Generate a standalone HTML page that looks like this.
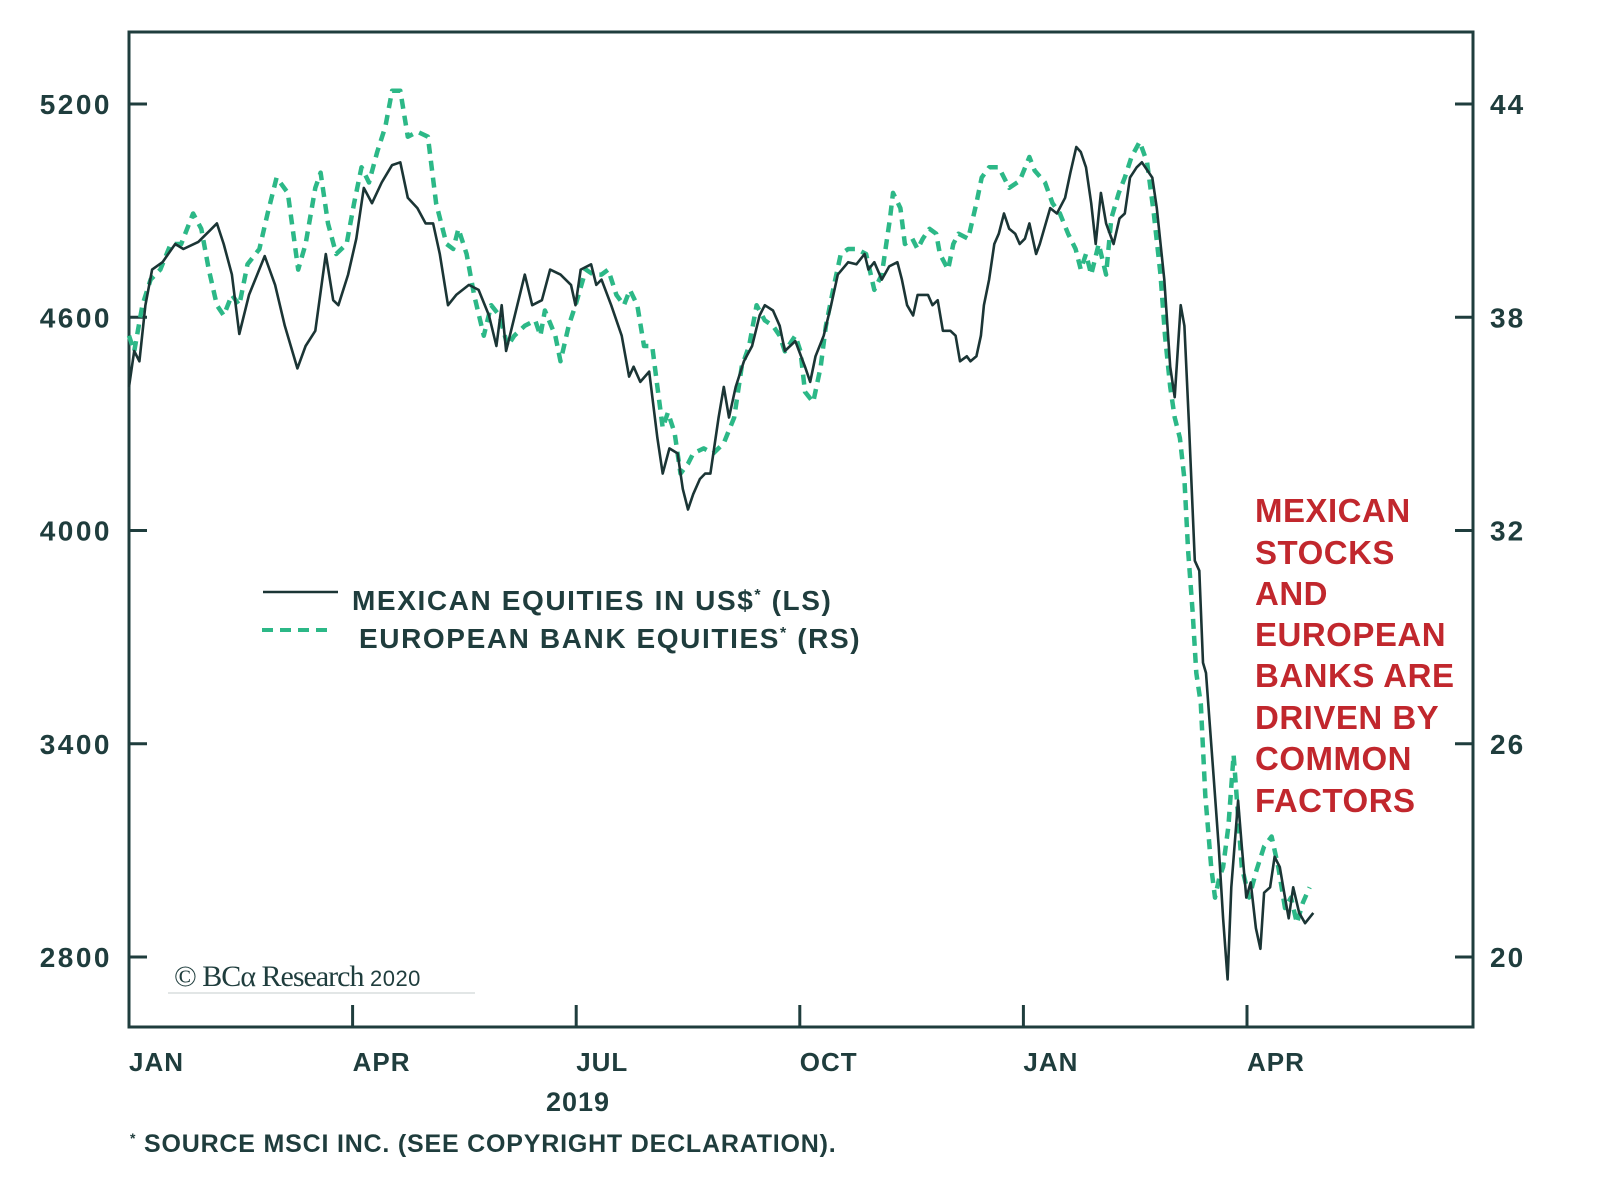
<!DOCTYPE html>
<html><head><meta charset="utf-8"><style>
html,body{margin:0;padding:0;background:#fff;}
svg{display:block;}
text{font-family:"Liberation Sans",Arial,sans-serif;}
</style></head><body>
<svg id="chart" width="1600" height="1188" viewBox="0 0 1600 1188" xmlns="http://www.w3.org/2000/svg">
<rect x="129" y="32" width="1344" height="995" fill="none" stroke="#1f3d3d" stroke-width="3"/>
<g id="axes"></g>
<g id="series"></g>
<g>
<line x1="263" y1="592" x2="338" y2="592" stroke="#1b3535" stroke-width="2.5"/>
<text x="352" y="610" font-size="28" font-weight="bold" fill="#1f3d3d" letter-spacing="1.6">MEXICAN EQUITIES IN US$<tspan font-size="16" dy="-10">*</tspan><tspan dy="10"> (LS)</tspan></text>
<line x1="262" y1="630" x2="334" y2="630" stroke="#2cb887" stroke-width="4" stroke-dasharray="11,7"/>
<text x="359" y="648" font-size="28" font-weight="bold" fill="#1f3d3d" letter-spacing="1.6">EUROPEAN BANK EQUITIES<tspan font-size="16" dy="-10">*</tspan><tspan dy="10"> (RS)</tspan></text>
</g>
<g font-size="33" font-weight="bold" fill="#c1272d" letter-spacing="0.5">
<text x="1255" y="522">MEXICAN</text><text x="1255" y="564">STOCKS</text><text x="1255" y="605">AND</text><text x="1255" y="646">EUROPEAN</text><text x="1255" y="687">BANKS ARE</text><text x="1255" y="729">DRIVEN BY</text><text x="1255" y="770">COMMON</text><text x="1255" y="812">FACTORS</text>
</g>
<text x="174" y="986" style="font-family:'Liberation Serif',serif;letter-spacing:-1px" font-size="30" fill="#1f3d3d">© BCα Research <tspan style="font-family:'Liberation Sans',sans-serif;letter-spacing:0.5px" font-size="22">2020</tspan></text>
<line x1="168" y1="993" x2="475" y2="993" stroke="#d8dede" stroke-width="1.5"/>
<text x="578" y="1111" text-anchor="middle" font-size="27" font-weight="bold" fill="#1f3d3d" letter-spacing="1">2019</text>
<text x="130" y="1152" font-size="25" font-weight="bold" fill="#1f3d3d" letter-spacing="0.8"><tspan font-size="14" dy="-9">*</tspan><tspan dy="9"> SOURCE MSCI INC. (SEE COPYRIGHT DECLARATION).</tspan></text>
</svg>
<script>
const leftTicks=[5200,4600,4000,3400,2800];
const rightTicks=[44,38,32,26,20];
const monthTicks=[0,3,6,9,12,15];
const monthLabels=["JAN","APR","JUL","OCT","JAN","APR"];
const mexDates=[0,0.07,0.14,0.22,0.31,0.45,0.62,0.73,0.93,1.07,1.18,1.27,1.38,1.48,1.61,1.82,1.96,2.09,2.26,2.37,2.5,2.64,2.74,2.81,2.94,3.05,3.15,3.26,3.39,3.53,3.64,3.74,3.87,3.98,4.08,4.17,4.28,4.39,4.56,4.69,4.83,4.93,5,5.06,5.21,5.31,5.41,5.54,5.65,5.79,5.93,5.99,6.06,6.2,6.27,6.34,6.47,6.61,6.71,6.77,6.86,6.98,7.09,7.16,7.25,7.36,7.43,7.5,7.57,7.66,7.73,7.8,7.91,7.98,8.05,8.14,8.25,8.36,8.46,8.53,8.64,8.73,8.8,8.94,9.07,9.14,9.21,9.32,9.42,9.51,9.65,9.76,9.87,9.92,10,10.1,10.2,10.31,10.37,10.44,10.52,10.58,10.72,10.78,10.85,10.92,11.02,11.09,11.15,11.24,11.29,11.37,11.43,11.47,11.54,11.61,11.67,11.74,11.81,11.89,11.95,12.02,12.08,12.17,12.22,12.36,12.45,12.56,12.63,12.71,12.77,12.84,12.91,12.97,13.04,13.11,13.21,13.29,13.36,13.43,13.52,13.59,13.73,13.79,13.89,13.97,14.03,14.11,14.16,14.22,14.3,14.36,14.41,14.45,14.49,14.55,14.62,14.68,14.74,14.79,14.88,14.93,14.99,15.05,15.12,15.18,15.23,15.31,15.37,15.44,15.51,15.56,15.62,15.7,15.78,15.89];
const mexValues=[4404,4505,4476,4634,4734,4755,4806,4792,4812,4841,4864,4806,4720,4553,4663,4772,4691,4576,4456,4519,4562,4778,4648,4634,4720,4821,4964,4921,4979,5028,5036,4936,4907,4864,4864,4778,4634,4663,4691,4677,4605,4519,4634,4505,4634,4720,4634,4648,4734,4720,4691,4634,4734,4749,4691,4706,4634,4548,4433,4461,4418,4447,4260,4160,4231,4217,4117,4059,4102,4145,4160,4160,4318,4404,4318,4404,4476,4519,4605,4634,4619,4576,4505,4533,4461,4418,4490,4548,4634,4720,4755,4749,4778,4734,4755,4706,4743,4755,4706,4634,4605,4663,4663,4634,4648,4562,4562,4548,4476,4490,4476,4490,4548,4634,4706,4806,4835,4892,4849,4835,4806,4821,4864,4778,4806,4907,4892,4936,5007,5079,5065,5022,4921,4806,4950,4864,4806,4878,4892,4993,5022,5036,4993,4907,4706,4461,4375,4634,4576,4303,3915,3887,3628,3599,3484,3312,3111,2909,2737,2996,3240,3111,2967,3010,2881,2823,2981,2996,3082,3053,2967,2909,2996,2924,2895,2924];
const eurDates=[0,0.07,0.18,0.29,0.42,0.56,0.7,0.86,0.97,1.07,1.18,1.27,1.38,1.48,1.59,1.75,1.86,1.98,2.13,2.27,2.37,2.5,2.57,2.67,2.78,2.92,3.02,3.12,3.22,3.33,3.44,3.53,3.64,3.74,3.87,4.01,4.12,4.26,4.35,4.42,4.53,4.63,4.76,4.86,4.97,5.08,5.17,5.31,5.45,5.52,5.58,5.72,5.79,5.9,5.99,6.13,6.23,6.34,6.43,6.54,6.64,6.72,6.82,6.91,7.02,7.09,7.16,7.23,7.32,7.4,7.5,7.57,7.71,7.84,7.98,8.12,8.22,8.32,8.42,8.53,8.64,8.73,8.8,8.94,9.01,9.07,9.18,9.28,9.35,9.46,9.55,9.65,9.76,9.89,10,10.1,10.21,10.25,10.35,10.41,10.51,10.58,10.65,10.74,10.83,10.88,10.99,11.06,11.13,11.26,11.37,11.44,11.54,11.67,11.81,11.95,12.08,12.15,12.29,12.39,12.49,12.6,12.7,12.77,12.84,12.91,13.01,13.11,13.18,13.28,13.36,13.45,13.56,13.66,13.75,13.84,13.9,13.97,14.03,14.1,14.16,14.21,14.27,14.32,14.38,14.44,14.52,14.57,14.63,14.68,14.75,14.82,14.86,14.93,15.03,15.12,15.23,15.33,15.42,15.51,15.59,15.67,15.75,15.84];
const eurValues=[37.48,37.04,38.34,39.06,39.34,40.06,40.06,40.92,40.49,39.34,38.34,38.05,38.63,38.34,39.49,39.92,40.92,41.93,41.5,39.34,40.06,41.64,42.07,40.64,39.78,40.06,41.21,42.22,41.79,42.65,43.37,44.37,44.37,43.08,43.22,43.08,41.21,40.06,39.92,40.49,39.78,38.63,37.48,38.34,38.05,37.19,37.48,37.76,37.91,37.48,38.19,37.48,36.76,37.76,38.34,39.34,39.2,39.2,39.34,38.63,38.34,38.77,38.34,37.19,37.19,36.04,34.89,35.32,34.75,33.6,33.88,34.17,34.31,34.17,34.46,35.18,36.61,37.19,38.34,37.91,37.76,37.48,37.04,37.48,37.04,35.9,35.61,36.61,37.76,38.91,39.78,39.92,39.92,39.78,38.77,39.2,40.78,41.5,41.07,40.06,40.21,39.92,40.21,40.49,40.35,39.78,39.34,40.06,40.35,40.21,41.21,41.93,42.22,42.22,41.64,41.84,42.51,42.13,41.79,41.21,40.92,40.35,39.92,39.34,39.78,39.2,40.06,39.2,40.78,41.5,41.93,42.51,42.94,42.36,40.92,39.2,37.48,36.04,35.18,34.6,33.45,31.44,29.72,27.99,27.13,24.54,22.53,21.67,22.24,22.53,23.68,25.69,24.54,22.53,21.67,22.39,23.11,23.39,22.53,21.38,21.67,20.95,21.53,21.96];

const NS="http://www.w3.org/2000/svg";
const X0=129,X1=1247,M1=15,YT=104,YB=957;
function xScale(m){return X0+m*(X1-X0)/M1;}
function yLeft(v){return YT+(5200-v)/(5200-2800)*(YB-YT);}
function yRight(v){return YT+(44-v)/(44-20)*(YB-YT);}
function mk(tag,attrs,parent){const e=document.createElementNS(NS,tag);for(const k in attrs)e.setAttribute(k,attrs[k]);parent.appendChild(e);return e;}
const axes=document.getElementById('axes');
const C="#1f3d3d";
leftTicks.forEach(v=>{
  const y=yLeft(v);
  const t=mk('line',{x1:129,x2:147,y1:y,y2:y,stroke:C,'stroke-width':3},axes);
  
  
  const l=mk('text',{x:112,y:y+10,'text-anchor':'end','font-size':28,'font-weight':'bold',fill:C,'letter-spacing':2.5},axes);
  l.textContent=v;
  
  
});
rightTicks.forEach(v=>{
  const y=yRight(v);
  const t=mk('line',{x1:1455,x2:1473,y1:y,y2:y,stroke:C,'stroke-width':3},axes);
  
  
  const l=mk('text',{x:1490,y:y+10,'font-size':28,'font-weight':'bold',fill:C,'letter-spacing':2},axes);
  l.textContent=v;
  
  
});
monthTicks.forEach((m,i)=>{
  const x=xScale(m);
  if(i>0){const t=mk('line',{x1:x,x2:x,y1:1005,y2:1027,stroke:C,'stroke-width':3},axes);
  
  }
  const l=mk('text',{x:x,y:1071,'font-size':26,'font-weight':'bold',fill:C,'letter-spacing':1},axes);
  l.textContent=monthLabels[i];
  
  
});
const ser=document.getElementById('series');
function path(dates,vals,ys){return dates.map((d,i)=>(i?'L':'M')+xScale(d).toFixed(1)+','+ys(vals[i]).toFixed(1)).join(' ');}
const eur=mk('path',{d:path(eurDates,eurValues,yRight),fill:'none',stroke:'#2cb887','stroke-width':4.5,'stroke-dasharray':'10,7','stroke-linejoin':'round'},ser);


const mex=mk('path',{d:path(mexDates,mexValues,yLeft),fill:'none',stroke:'#1b3535','stroke-width':2.6,'stroke-linejoin':'round'},ser);


</script>
</body></html>
